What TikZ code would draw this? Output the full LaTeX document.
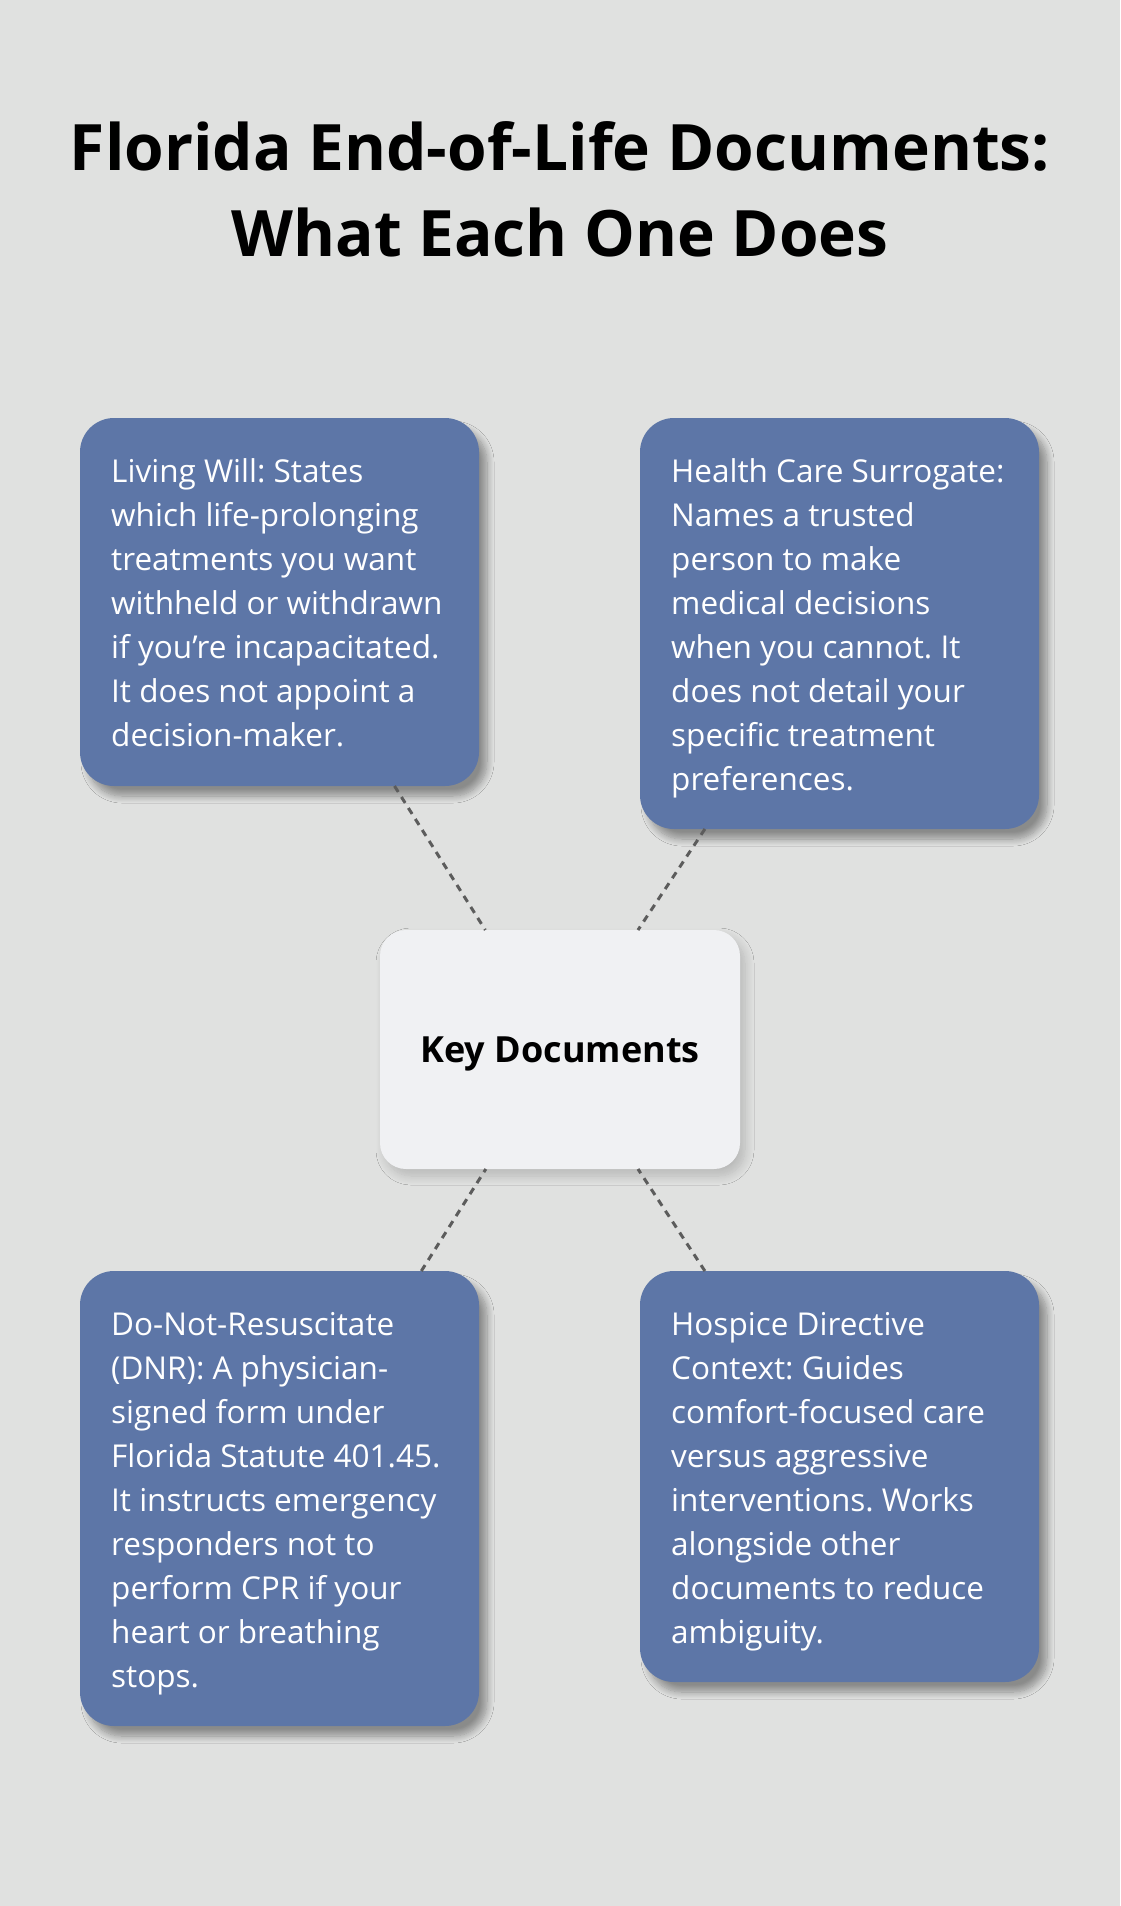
\documentclass[tikz,border=0pt]{standalone}
\usepackage{fontspec}
\setmainfont{Open Sans}
\frenchspacing
\usetikzlibrary{shadows.blur}
\definecolor{bg}{RGB}{224,225,224}
\definecolor{boxblue}{RGB}{93,118,167}
\definecolor{centerfill}{RGB}{240,241,243}
\definecolor{linegray}{RGB}{92,92,92}
\tikzset{
  docbox/.style={draw=none, fill=boxblue, rounded corners=34pt, minimum width=399pt,
    inner sep=0pt, outer sep=0pt, anchor=north west,
    blur shadow={shadow xshift=8pt, shadow yshift=-10pt, shadow blur radius=7pt, shadow blur steps=12, shadow opacity=38}},
  doctext/.style={text=white, font=\fontsize{31.5}{44}\selectfont, align=left, inner sep=0pt, anchor=north west},
  centerbox/.style={draw=none, fill=centerfill, rounded corners=26pt, minimum width=360pt, minimum height=239pt,
    inner sep=0pt, outer sep=0pt, text height=26pt, text depth=0pt,
    font=\fontsize{36}{42}\selectfont\bfseries,
    blur shadow={shadow xshift=5pt, shadow yshift=-7pt, shadow blur radius=9pt, shadow blur steps=12, shadow opacity=18}},
  connector/.style={draw=linegray, line width=3pt, dash pattern=on 7pt off 6pt},
  titletext/.style={font=\fontsize{64}{86}\selectfont\bfseries, align=center, anchor=north, inner sep=0pt}
}
\begin{document}
\begin{tikzpicture}[x=1pt,y=1pt]
\fill[bg] (0,0) rectangle (1120,-1906);
\useasboundingbox (0,0) rectangle (1120,-1906);

\node[titletext] (title) at (560,-120) {\rule{0pt}{50pt}Florida End-of-Life Documents:\\What Each One Does};

\node[docbox, minimum height=368pt] (lw) at (80,-418) {};
\node[docbox, minimum height=411pt] (hcs) at (640,-418) {};
\node[docbox, minimum height=455pt] (dnr) at (80,-1271) {};
\node[docbox, minimum height=411pt] (hdc) at (640,-1271) {};
\node[centerbox] (kd) at (560,-1049.5) {Key Documents};

\draw[connector] (lw) -- (kd);
\draw[connector] (hcs) -- (kd);
\draw[connector] (dnr) -- (kd);
\draw[connector] (hdc) -- (kd);

\node[doctext] (lwt) at (111,-450) {\rule{0pt}{32pt}Living Will: States\\which life-prolonging\\treatments you want\\withheld or withdrawn\\if you’re incapacitated.\\It does not appoint a\\decision-maker.};
\node[doctext] (hcst) at (671,-450) {\rule{0pt}{32pt}Health Care Surrogate:\\Names a trusted\\person to make\\medical decisions\\when you cannot. It\\does not detail your\\specific treatment\\preferences.};
\node[doctext] (dnrt) at (111,-1303) {\rule{0pt}{32pt}Do-Not-Resuscitate\\(DNR): A physician-\\signed form under\\Florida Statute 401.45.\\It instructs emergency\\responders not to\\perform CPR if your\\heart or breathing\\stops.};
\node[doctext] (hdct) at (671,-1303) {\rule{0pt}{32pt}Hospice Directive\\Context: Guides\\comfort-focused care\\versus aggressive\\interventions. Works\\alongside other\\documents to reduce\\ambiguity.};
\end{tikzpicture}
\end{document}
